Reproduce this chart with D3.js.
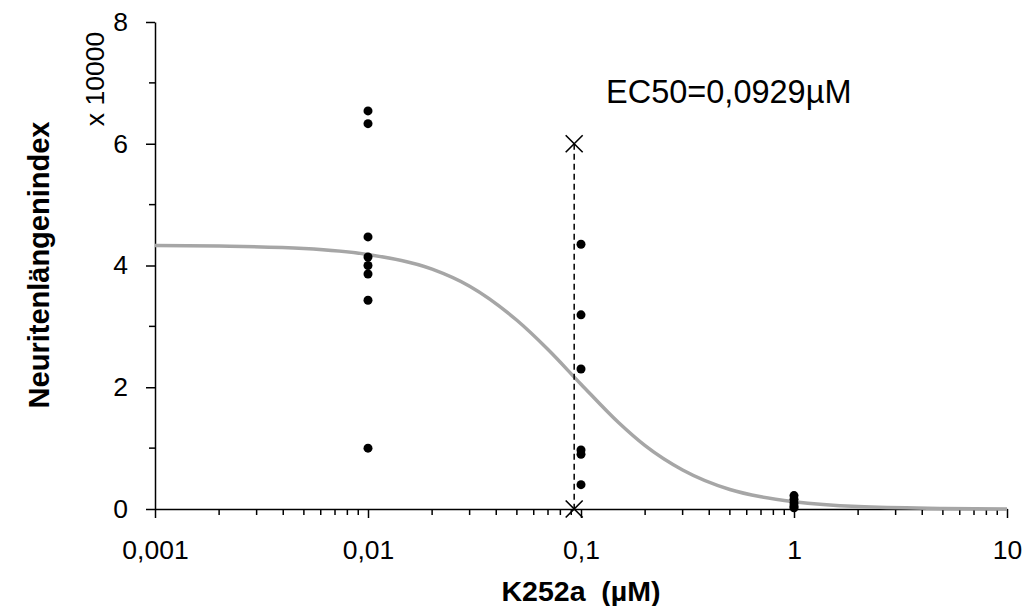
<!DOCTYPE html>
<html><head><meta charset="utf-8">
<script src="https://cdn.jsdelivr.net/npm/d3@7"></script>
<style>body{margin:0;background:#fff}svg{display:block}text{font-family:"Liberation Sans",Arial,sans-serif}</style>
</head><body><svg id="c" width="1029" height="606"></svg>
<script>
// Data (values in units of 10000)
const xTickValues = [0.001, 0.01, 0.1, 1, 10];
const xTickLabels = ["0,001", "0,01", "0,1", "1", "10"];
const yTickValues = [0, 2, 4, 6, 8];
const yMinorValues = [1, 3, 5, 7];
const concentrations = [0.01, 0.1, 1];
const valuesAt001 = [6.54, 6.33, 4.47, 4.14, 4.00, 3.86, 3.43, 1.00];
const valuesAt01 = [4.35, 3.19, 2.30, 0.97, 0.90, 0.40];
const valuesAt1 = [0.22, 0.16, 0.10, 0.05, 0.02];
const fitX = [0.001, 0.002, 0.005, 0.01, 0.02, 0.03, 0.05, 0.07, 0.1, 0.15, 0.2, 0.3, 0.5, 0.7, 1, 2, 5, 10];
const fitY = [4.33, 4.32, 4.28, 4.18, 3.94, 3.66, 3.10, 2.62, 2.05, 1.42, 1.04, 0.64, 0.32, 0.20, 0.12, 0.04, 0.01, 0.0];
const ec50 = 0.0929;
const ec50Markers = [6, 0];
const ec50Label = "EC50=0,0929µM";

const svg = d3.select("#c");
const L = 155, R = 1007, T = 22, B = 509;
const x = d3.scaleLog().domain([0.001, 10]).range([L, R]);
const y = d3.scaleLinear().domain([0, 8]).range([B, T]);

// minor x ticks
const xMinor = [];
[0.001, 0.01, 0.1, 1].forEach(d => { for (let k = 2; k <= 9; k++) xMinor.push(d * k); });
svg.append("g").selectAll("line").data(xMinor).join("line")
  .attr("x1", d => x(d)).attr("x2", d => x(d)).attr("y1", B).attr("y2", B + 6)
  .attr("stroke", "#000").attr("stroke-width", 1.5);
svg.append("g").selectAll("line").data(yMinorValues).join("line")
  .attr("x1", L - 6).attr("x2", L).attr("y1", d => y(d)).attr("y2", d => y(d))
  .attr("stroke", "#000").attr("stroke-width", 1.5);

// axes
const gx = svg.append("g").attr("transform", `translate(0,${B})`)
  .call(d3.axisBottom(x).tickValues(xTickValues).tickFormat((d, i) => xTickLabels[i]).tickSize(9).tickSizeOuter(0).tickPadding(22));
const gy = svg.append("g").attr("transform", `translate(${L},0)`)
  .call(d3.axisLeft(y).tickValues(yTickValues).tickFormat(d => d).tickSize(9).tickSizeOuter(0).tickPadding(18));
[gx, gy].forEach(g => {
  g.select(".domain").attr("stroke", "#000").attr("stroke-width", 1.5);
  g.selectAll(".tick line").attr("stroke", "#000").attr("stroke-width", 1.5);
  g.selectAll("text").attr("font-size", 26.5).attr("fill", "#000").attr("font-family", "Liberation Sans, Arial, sans-serif");
});

// fitted curve
const line = d3.line().x((d, i) => x(fitX[i])).y(d => y(d)).curve(d3.curveMonotoneX);
svg.append("path").attr("d", line(fitY)).attr("fill", "none").attr("stroke", "#a6a6a6").attr("stroke-width", 3.5);

// EC50 dashed line
svg.append("line").attr("x1", x(ec50)).attr("x2", x(ec50)).attr("y1", y(ec50Markers[0])).attr("y2", y(ec50Markers[1]))
  .attr("stroke", "#000").attr("stroke-width", 1.5).attr("stroke-dasharray", "6,4");
svg.append("g").selectAll("path").data(ec50Markers).join("path")
  .attr("d", d3.symbol(d3.symbolX, 190))
  .attr("transform", d => `translate(${x(ec50)},${y(d)})`)
  .attr("stroke", "#000").attr("stroke-width", 1.6).attr("fill", "none");

// data points
const seriesVals = [valuesAt001, valuesAt01, valuesAt1];
const pts = [];
concentrations.forEach((c, i) => seriesVals[i].forEach(v => pts.push([c, v])));
svg.append("g").selectAll("circle").data(pts).join("circle")
  .attr("cx", d => x(d[0])).attr("cy", d => y(d[1])).attr("r", 4.5).attr("fill", "#000");

// texts
svg.append("text").attr("x", 606).attr("y", 103).attr("font-size", 32.5).text(ec50Label);
svg.append("text").attr("x", 581).attr("y", 601).attr("text-anchor", "middle").attr("font-size", 28.5)
  .attr("font-weight", "bold").text("K252a  (µM)").style("white-space", "pre");
svg.append("text").attr("transform", "translate(49,265) rotate(-90)").attr("text-anchor", "middle")
  .attr("font-size", 29).attr("font-weight", "bold").text("Neuritenlängenindex");
svg.append("text").attr("transform", "translate(104,79) rotate(-90)").attr("text-anchor", "middle")
  .attr("font-size", 26.5).text("x 10000");
</script></body></html>
